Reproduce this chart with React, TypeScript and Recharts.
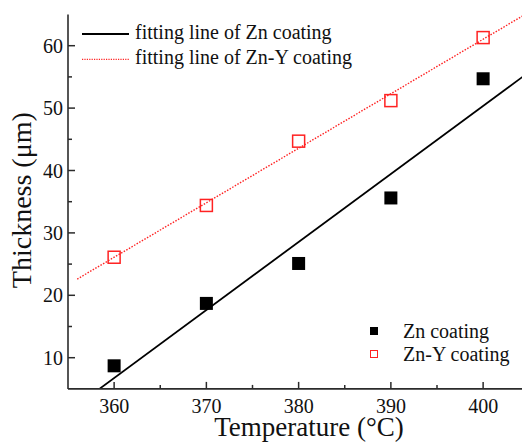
import React from 'react';
import { ComposedChart, XAxis, YAxis, Line, Scatter, Legend } from 'recharts';

// ---- data ----
const temperatures = [360, 370, 380, 390, 400];
const znThickness = [8.7, 18.7, 25.1, 35.6, 54.7];
const znYThickness = [26.1, 34.4, 44.7, 51.2, 61.3];

// fitted lines (end points)
const znFitTemps = [358.4, 405];
const znFitValues = [5, 55.8];
const znYFitTemps = [356, 405];
const znYFitValues = [22.6, 65.4];

const xDomain = [355, 405];
const yDomain = [5, 65];
const xTicks = [360, 365, 370, 375, 380, 385, 390, 395, 400];
const yTicks = [10, 15, 20, 25, 30, 35, 40, 45, 50, 55, 60];

const seriesNames = {
  znFit: 'fitting line of Zn coating',
  znYFit: 'fitting line of Zn-Y coating',
  zn: 'Zn coating',
  znY: 'Zn-Y coating',
};

const toPoints = (xs: number[], ys: number[]) => xs.map((x, i) => ({ x, y: ys[i] }));
const znData = toPoints(temperatures, znThickness);
const znYData = toPoints(temperatures, znYThickness);
const znFitData = toPoints(znFitTemps, znFitValues);
const znYFitData = toPoints(znYFitTemps, znYFitValues);

// ---- styles ----
const FONT = '"Liberation Serif", "Times New Roman", serif';
const AXIS = '#2b2b2b';
const RED = '#ff2222';

const YTick = (props: any) => {
  const { x, y, payload } = props;
  const major = payload.value % 10 === 0;
  return (
    <g>
      <line x1={x} x2={x + (major ? 7 : 4)} y1={y} y2={y} stroke={AXIS} strokeWidth={1.5} />
      {major && (
        <text x={x - 5} y={y + 7} textAnchor="end" fontFamily={FONT} fontSize={20} fill="#111">
          {payload.value}
        </text>
      )}
    </g>
  );
};

const XTick = (props: any) => {
  const { x, y, payload } = props;
  const major = payload.value % 10 === 0;
  return (
    <g>
      <line x1={x} x2={x} y1={y} y2={y - (major ? 7 : 4)} stroke={AXIS} strokeWidth={1.5} />
      {major && (
        <text x={x} y={y + 24} textAnchor="middle" fontFamily={FONT} fontSize={20} fill="#111">
          {payload.value}
        </text>
      )}
    </g>
  );
};

const YLabel = (props: any) => {
  const vb = props.viewBox || { x: 0, y: 14.5, width: 68, height: 374.4 };
  const bx = vb.x + 30.7;
  const cy = vb.y + vb.height / 2 - 1.5;
  return (
    <text
      transform={`translate(${bx},${cy}) rotate(-90)`}
      textAnchor="middle"
      fontFamily={FONT}
      fontSize={28}
      fill="#111"
    >
      Thickness (μm)
    </text>
  );
};

const XLabel = (props: any) => {
  const vb = props.viewBox || { x: 68, y: 389, width: 461, height: 55 };
  return (
    <text x={309} y={vb.y + 47} textAnchor="middle" fontFamily={FONT} fontSize={27} fill="#111">
      Temperature (°C)
    </text>
  );
};

const FilledSquare = (p: any) => (
  <rect x={p.cx - 6.5} y={p.cy - 6.5} width={13} height={13} fill="#000" />
);
const HollowSquare = (p: any) => (
  <rect x={p.cx - 6} y={p.cy - 6} width={12} height={12} fill="none" stroke={RED} strokeWidth={1.5} />
);

const LegendContent = (props: any) => {
  const payload: any[] = props.payload || [];
  const lines = payload.filter((e) => e.type === 'line');
  const squares = payload.filter((e) => e.type === 'square');
  return (
    <svg width={540} height={444} style={{ position: 'absolute', left: 0, top: 0 }}>
      {lines.map((e, i) => {
        const cy = 34 + i * 25.3;
        const dotted = e.value === seriesNames.znYFit;
        return (
          <g key={e.value}>
            <line
              x1={82}
              x2={129}
              y1={cy}
              y2={cy}
              stroke={dotted ? RED : '#000'}
              strokeWidth={dotted ? 1.2 : 1.8}
              strokeDasharray={dotted ? '1.2 1.2' : undefined}
            />
            <text x={135} y={cy + 4.7} fontFamily={FONT} fontSize={20} fill="#111">
              {e.value}
            </text>
          </g>
        );
      })}
      {squares.map((e, i) => {
        const cy = 331 + i * 23;
        const hollow = e.value === seriesNames.znY;
        return (
          <g key={e.value}>
            {hollow ? (
              <rect x={370.5} y={cy - 3.5} width={7} height={7} fill="none" stroke={RED} strokeWidth={1} />
            ) : (
              <rect x={370} y={cy - 4} width={8} height={8} fill="#000" />
            )}
            <text x={403} y={cy + 7} fontFamily={FONT} fontSize={20} fill="#111">
              {e.value}
            </text>
          </g>
        );
      })}
    </svg>
  );
};

export default function App() {
  return (
    <div
      style={{
        position: 'absolute',
        left: 0,
        top: 0,
        width: 522,
        height: 444,
        overflow: 'hidden',
        background: '#fff',
      }}
    >
      <ComposedChart
        width={540}
        height={444}
        margin={{ top: 14.5, right: 10.75, bottom: 0, left: 0 }}
      >
        <XAxis
          dataKey="x"
          type="number"
          domain={xDomain}
          allowDataOverflow
          ticks={xTicks}
          interval={0}
          tickLine={false}
          tickSize={0}
          tickMargin={0}
          tick={<XTick />}
          axisLine={{ stroke: AXIS, strokeWidth: 1.6 }}
          height={55.1}
          label={{ content: XLabel }}
        />
        <XAxis
          xAxisId="top"
          orientation="top"
          dataKey="x"
          type="number"
          domain={xDomain}
          allowDataOverflow
          tick={false}
          tickLine={false}
          height={0}
          axisLine={{ stroke: AXIS, strokeWidth: 1.6 }}
        />
        <YAxis
          dataKey="y"
          type="number"
          domain={yDomain}
          allowDataOverflow
          ticks={yTicks}
          interval={0}
          tickLine={false}
          tickSize={0}
          tickMargin={0}
          tick={<YTick />}
          axisLine={{ stroke: AXIS, strokeWidth: 1.6 }}
          width={68}
          label={{ content: YLabel }}
        />
        <Line
          data={znFitData}
          dataKey="y"
          name={seriesNames.znFit}
          stroke="#000"
          strokeWidth={1.8}
          dot={false}
          activeDot={false}
          legendType="line"
          isAnimationActive={false}
        />
        <Line
          data={znYFitData}
          dataKey="y"
          name={seriesNames.znYFit}
          stroke={RED}
          strokeWidth={1.4}
          strokeDasharray="1.5 1.5"
          dot={false}
          activeDot={false}
          legendType="line"
          isAnimationActive={false}
        />
        <Scatter
          data={znData}
          dataKey="y"
          name={seriesNames.zn}
          shape={FilledSquare}
          fill="#000"
          legendType="square"
          isAnimationActive={false}
        />
        <Scatter
          data={znYData}
          dataKey="y"
          name={seriesNames.znY}
          shape={HollowSquare}
          fill={RED}
          legendType="square"
          isAnimationActive={false}
        />
        <Legend
          layout="vertical"
          align="center"
          verticalAlign="middle"
          content={<LegendContent />}
          wrapperStyle={{ position: 'absolute', left: 0, top: 0, width: 540, height: 444 }}
        />
      </ComposedChart>
    </div>
  );
}
